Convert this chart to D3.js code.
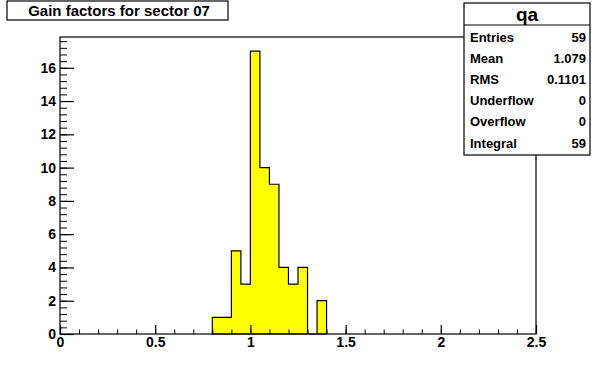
<!DOCTYPE html>
<html>
<head>
<meta charset="utf-8">
<script src="https://cdn.jsdelivr.net/npm/d3@7"></script>
<style>
  body { margin: 0; background: #fff; }
  svg { display: block; font-family: "Liberation Sans", Arial, sans-serif; font-weight: bold; }
</style>
</head>
<body>
<script>
// histogram "qa": bins of width 0.05, only the non-empty stretch listed
const binLow = [0.80, 0.85, 0.90, 0.95, 1.00, 1.05, 1.10, 1.15, 1.20, 1.25, 1.30, 1.35];
const binHigh = [0.85, 0.90, 0.95, 1.00, 1.05, 1.10, 1.15, 1.20, 1.25, 1.30, 1.35, 1.40];
const counts = [1, 1, 5, 3, 17, 10, 9, 4, 3, 4, 0, 2];
const xTicks = [0, 0.5, 1, 1.5, 2, 2.5];
const yTicks = [0, 2, 4, 6, 8, 10, 12, 14, 16];
const statNames = ["Entries", "Mean", "RMS", "Underflow", "Overflow", "Integral"];
const statValues = ["59", "1.079", "0.1101", "0", "0", "59"];

const width = 596, height = 372;
const frame = { left: 60, right: 536, top: 37, bottom: 334 };

const svg = d3.select("body").append("svg")
  .attr("width", width).attr("height", height);

const x = d3.scaleLinear().domain([0, 2.5]).range([frame.left, frame.right]);
const y = d3.scaleLinear().domain([0, 17.85]).range([frame.bottom, frame.top]);

// histogram contour
const pts = [[binLow[0], 0]];
counts.forEach((c, i) => { pts.push([binLow[i], c]); pts.push([binHigh[i], c]); });
pts.push([binHigh[binHigh.length - 1], 0]);

const line = d3.line().x(d => x(d[0])).y(d => y(d[1]));
svg.append("path")
  .attr("d", line(pts) + "Z")
  .attr("fill", "#ffff00")
  .attr("stroke", "black")
  .attr("stroke-width", 1.2);

// frame
svg.append("rect")
  .attr("x", frame.left).attr("y", frame.top)
  .attr("width", frame.right - frame.left).attr("height", frame.bottom - frame.top)
  .attr("fill", "none").attr("stroke", "black").attr("stroke-width", 1.2);

// x axis: minor ticks every 0.1, major every 0.5, drawn inside
const xMinor = d3.range(0, 26).map(i => i / 10);
svg.append("g").attr("transform", `translate(0,${frame.bottom})`)
  .call(d3.axisBottom(x).tickValues(xMinor).tickSize(-4.5).tickFormat(""))
  .call(g => g.select(".domain").remove());
const xAxis = svg.append("g").attr("transform", `translate(0,${frame.bottom})`)
  .call(d3.axisBottom(x).tickValues(xTicks).tickSize(-9).tickPadding(2).tickFormat(d3.format("")))
  .call(g => g.select(".domain").remove());
xAxis.selectAll("text").attr("font-size", 14).attr("font-family", null).attr("dy", "0.8em");
xAxis.selectAll("line").attr("stroke-width", 1.2);

// y axis: minor every 0.4, major every 2
const yMinor = d3.range(0, 45).map(i => i * 0.4);
svg.append("g").attr("transform", `translate(${frame.left},0)`)
  .call(d3.axisLeft(y).tickValues(yMinor).tickSize(-7).tickFormat(""))
  .call(g => g.select(".domain").remove());
const yAxis = svg.append("g").attr("transform", `translate(${frame.left},0)`)
  .call(d3.axisLeft(y).tickValues(yTicks).tickSize(-14).tickPadding(4))
  .call(g => g.select(".domain").remove());
yAxis.selectAll("text").attr("font-size", 14).attr("font-family", null);
yAxis.selectAll("line").attr("stroke-width", 1.2);
svg.selectAll(".tick line").attr("stroke", "black");

// title box
svg.append("rect").attr("x", 7).attr("y", 1).attr("width", 221).attr("height", 19)
  .attr("fill", "white").attr("stroke", "black").attr("stroke-width", 1.2);
svg.append("text").attr("x", 119).attr("y", 16).attr("text-anchor", "middle")
  .attr("font-size", 15).text("Gain factors for sector 07");

// stats box
const sx0 = 464, sx1 = 590, sy0 = 3, sy1 = 155;
svg.append("rect").attr("x", sx0).attr("y", sy0).attr("width", sx1 - sx0).attr("height", sy1 - sy0)
  .attr("fill", "white").attr("stroke", "black").attr("stroke-width", 1.2);
svg.append("line").attr("x1", sx0).attr("x2", sx1).attr("y1", 25).attr("y2", 25)
  .attr("stroke", "black").attr("stroke-width", 1.2);
svg.append("text").attr("x", (sx0 + sx1) / 2).attr("y", 21).attr("text-anchor", "middle")
  .attr("font-size", 19).text("qa");
const rowY = d3.scalePoint().domain(statNames).range([37, 143]);
statNames.forEach((n, i) => {
  svg.append("text").attr("x", 470).attr("y", rowY(n)).attr("dy", "0.35em")
    .attr("font-size", 13).text(n);
  svg.append("text").attr("x", 586).attr("y", rowY(n)).attr("dy", "0.35em")
    .attr("text-anchor", "end").attr("font-size", 13).text(statValues[i]);
});
</script>
</body>
</html>
